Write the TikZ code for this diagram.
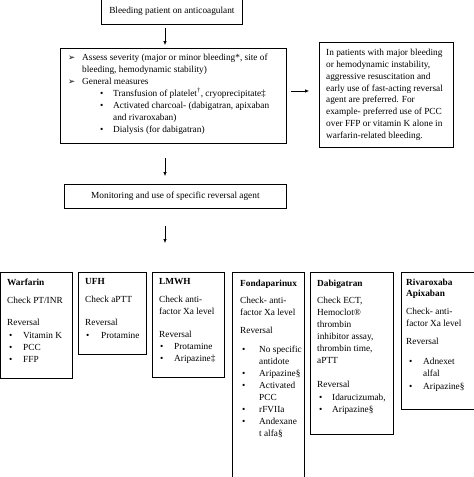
\documentclass[tikz,border=0pt]{standalone}
\usepackage{fontspec}
\setmainfont{Liberation Serif}
\newfontfamily\dejavu{DejaVu Sans}
\usetikzlibrary{arrows.meta}
\newcommand\dfont{\fontsize{9.3}{12}\selectfont}
\newcommand\rfont{\fontsize{9.3}{11.8}\selectfont}
\newcommand\arrbul{\makebox[14pt][l]{\dejavu\fontsize{8.5}{8.5}\selectfont ➢}}
\newcommand\mybul[2]{\hspace*{#1}\makebox[#2][l]{•}}
\begin{document}
\begin{tikzpicture}[x=1pt,y=-1pt,
  box/.style={draw, line width=0.8pt, inner sep=0pt, anchor=north west},
  txt/.style={anchor=north west, inner sep=0pt, align=left, font=\dfont},
  arr/.style={draw, line width=0.6pt, -{Latex[length=4pt,width=3.5pt]}}]
\useasboundingbox (0,0) rectangle (474,477);

% top flow
\node[box, minimum width=141pt, minimum height=27pt, font=\dfont] (top) at (101,-3) {Bleeding patient on anticoagulant};
\node[box, minimum width=226pt, minimum height=95pt] (assess) at (60,48) {};
\node[txt] (assesstxt) at (68,53.5) {%
\arrbul Assess severity (major or minor bleeding*, site of\\
\hspace*{14pt}bleeding, hemodynamic stability)\\
\arrbul General measures\\
\mybul{32pt}{13pt}Transfusion of platelet\textsuperscript{†}, cryoprecipitate‡\\
\mybul{32pt}{13pt}Activated charcoal- (dabigatran, apixaban\\
\hspace*{45pt}and rivaroxaban)\\
\mybul{32pt}{13pt}Dialysis (for dabigatran)};
\node[box, minimum width=134pt, minimum height=105pt] (note) at (319,42) {};
\node[txt, font=\rfont] (notetxt) at (326,49) {%
In patients with major bleeding\\
or hemodynamic instability,\\
aggressive resuscitation and\\
early use of fast-acting reversal\\
agent are preferred. For\\
example- preferred use of PCC\\
over FFP or vitamin K alone in\\
warfarin-related bleeding.};
\node[box, minimum width=222pt, minimum height=24pt, font=\dfont] (monitor) at (64,184) {Monitoring and use of specific reversal agent};

\coordinate (a1s) at (165,28); \coordinate (a1e) at (165,45);
\coordinate (a2s) at (291,91); \coordinate (a2e) at (309,91);
\coordinate (a3s) at (165,158); \coordinate (a3e) at (165,176);
\coordinate (a4s) at (165,226); \coordinate (a4e) at (165,243);
\draw[arr] (a1s) -- (a1e);
\draw[arr] (a2s) -- (a2e);
\draw[arr] (a3s) -- (a3e);
\draw[arr] (a4s) -- (a4e);

% agent boxes
\node[box, minimum width=72pt, minimum height=106pt] (warf) at (0.4,272) {};
\node[txt] (warftxt) at (7,278.5) {%
\textbf{Warfarin}\\[6pt]
Check PT/INR\\[10pt]
Reversal\\[1pt]
\mybul{2pt}{14pt}Vitamin K\\
\mybul{2pt}{14pt}PCC\\
\mybul{2pt}{14pt}FFP};

\node[box, minimum width=68pt, minimum height=82pt] (ufh) at (78,272) {};
\node[txt] (ufhtxt) at (85,278.5) {%
\textbf{UFH}\\[6pt]
Check aPTT\\[11pt]
Reversal\\[1pt]
\mybul{1pt}{15pt}Protamine};

\node[box, minimum width=72pt, minimum height=105pt] (lmwh) at (152,272) {};
\node[txt] (lmwhtxt) at (159,278.5) {%
\textbf{LMWH}\\[6pt]
Check anti-\\
factor Xa level\\[11pt]
Reversal\\
\mybul{1pt}{14pt}Protamine\\
\mybul{1pt}{14pt}Aripazine‡};

\node[box, minimum width=72pt, minimum height=212pt] (fonda) at (232,272) {};
\node[txt] (fondatxt) at (240,279.5) {%
\textbf{Fondaparinux}\\[5pt]
Check- anti-\\
factor Xa level\\[6pt]
Reversal\\[7pt]
\mybul{2pt}{17pt}No specific\\
\hspace*{19pt}antidote\\
\mybul{2pt}{17pt}Aripazine§\\
\mybul{2pt}{17pt}Activated\\
\hspace*{19pt}PCC\\
\mybul{2pt}{17pt}rFVIIa\\
\mybul{2pt}{17pt}Andexane\\
\hspace*{19pt}t alfa§};

\node[box, minimum width=83pt, minimum height=162pt] (dabi) at (310,272) {};
\node[txt] (dabitxt) at (317,279.5) {%
\textbf{Dabigatran}\\[5pt]
Check ECT,\\
Hemoclot®\\
thrombin\\
inhibitor assay,\\
thrombin time,\\
aPTT\\[12pt]
Reversal\\[1pt]
\mybul{2pt}{13pt}Idarucizumab,\\
\mybul{2pt}{13pt}Aripazine§};

\node[box, minimum width=78pt, minimum height=137pt] (riva) at (401,272) {};
\node[txt] (rivatxt) at (406,279) {%
\textbf{Rivaroxaba}\\[-1pt]
\textbf{Apixaban}\\[6pt]
Check- anti-\\
factor Xa level\\[6pt]
Reversal\\[8pt]
\mybul{3pt}{14pt}Adnexet\\
\hspace*{17pt}alfal\\[1pt]
\mybul{3pt}{14pt}Aripazine§};
\end{tikzpicture}
\end{document}
